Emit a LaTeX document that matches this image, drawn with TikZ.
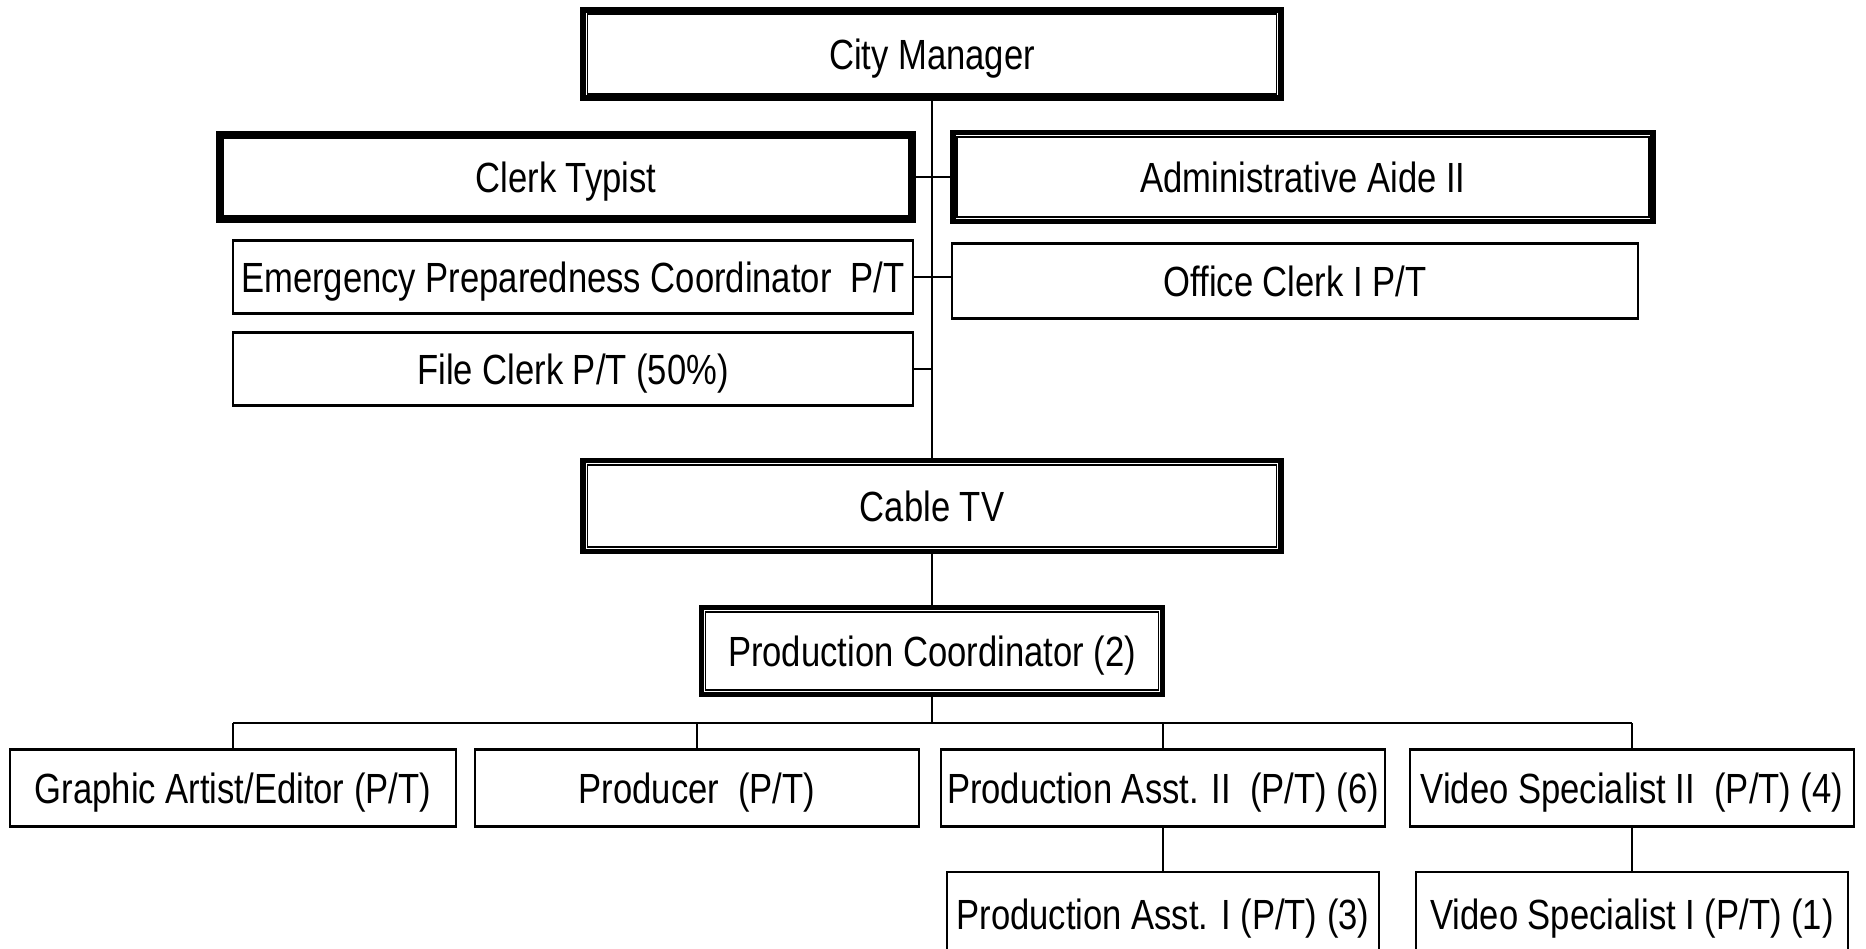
\documentclass[tikz,border=0pt]{standalone}
\usepackage{fontspec}
\setmainfont[FakeStretch=0.82]{Liberation Sans}
\usetikzlibrary{positioning, calc}

\begin{document}
\begin{tikzpicture}[x=0.01cm, y=-0.01cm,
  font=\fontsize{12}{14}\selectfont,
  every node/.style={text height=8.6pt, text depth=0pt},
  mainbox/.style={draw, line width=1.6pt, inner sep=0pt},
  subbox/.style={draw, line width=0.6pt, inner sep=0pt},
  innerline/.style={line width=0.5pt},
  link/.style={line width=0.55pt}]

% Page: 1866 x 949 px, 1 px = 0.01cm
\useasboundingbox (0,0) rectangle (1866,949);

% Top
\node[mainbox, minimum width=6.97cm, minimum height=0.88cm] (cm) at (932,54) {City Manager};

% Staff boxes
\node[mainbox, minimum width=6.94cm, minimum height=0.86cm] (ct) at (566,177) {Clerk Typist};
\node[mainbox, minimum width=7.00cm, minimum height=0.89cm] (aa) at (1303,177) {Administrative Aide II};
\node[subbox, minimum width=6.80cm, minimum height=0.73cm] (ep) at (573,277) {Emergency Preparedness Coordinator\ \ P/T};
\node[subbox, minimum width=6.86cm, minimum height=0.75cm] (oc) at (1295,281) {Office Clerk I P/T};
\node[subbox, minimum width=6.80cm, minimum height=0.73cm] (fc) at (573,369) {File Clerk P/T (50\%)};

% Cable TV
\node[mainbox, minimum width=6.97cm, minimum height=0.91cm] (cable) at (932,506) {Cable TV};
\node[mainbox, minimum width=4.61cm, minimum height=0.87cm] (pc) at (932,651) {Production Coordinator (2)};

% Bottom row
\node[subbox, minimum width=4.45cm, minimum height=0.77cm] (ga) at (233,788) {Graphic Artist/Editor (P/T)};
\node[subbox, minimum width=4.44cm, minimum height=0.77cm] (pr) at (697,788) {Producer\ \ (P/T)};
\node[subbox, minimum width=4.43cm, minimum height=0.77cm] (pa2) at (1163,788) {Production Asst. II\ \ (P/T) (6)};
\node[subbox, minimum width=4.44cm, minimum height=0.77cm] (vs2) at (1632,788) {Video Specialist II\ \ (P/T) (4)};
\node[subbox, minimum width=4.32cm, minimum height=0.84cm] (pa1) at (1163,914) {Production Asst. I (P/T) (3)};
\node[subbox, minimum width=4.32cm, minimum height=0.84cm] (vs1) at (1632,914) {Video Specialist I (P/T) (1)};

% Inner lines of the heavy boxes
\foreach \n in {cm,ct,aa,cable,pc}
  \draw[innerline] ([shift={(0.07cm,0.07cm)}]\n.south west) rectangle ([shift={(-0.07cm,-0.07cm)}]\n.north east);

% Lines
\draw[link] (cm.south) -- (cable.north);
\draw[link] (ct.east) -- (ct.east -| aa.west);
\draw[link] (ep.east) -- (ep.east -| oc.west);
\draw[link] (fc.east) -- (fc.east -| cm.south);
\draw[link] (cable.south) -- (pc.north);

\coordinate (bus) at (932,723);
\draw[link] (pc.south) -- (bus);
\draw[link] (ga.north |- bus) -- (vs2.north |- bus);
\foreach \n in {ga,pr,pa2,vs2}
  \draw[link] (\n.north) -- (\n.north |- bus);
\draw[link] (pa2.south) -- (pa1.north);
\draw[link] (vs2.south) -- (vs1.north);

\end{tikzpicture}
\end{document}
